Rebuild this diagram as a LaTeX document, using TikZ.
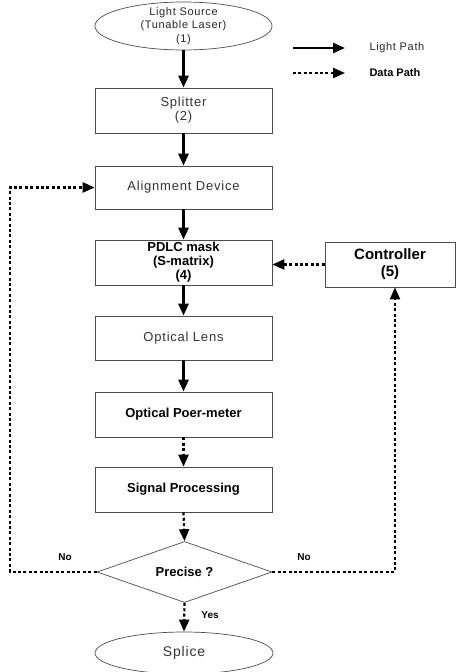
\documentclass[tikz,border=0pt]{standalone}
\usepackage{fontspec}
\setmainfont{Liberation Sans}
\newfontfamily\thinfont[LetterSpace=6]{Liberation Sans}
\usetikzlibrary{shapes.geometric,arrows.meta}

\begin{document}
\begin{tikzpicture}[x=1pt,y=-1pt,
  box/.style={draw=black!70, line width=0.7pt, rectangle, minimum width=177pt,
    inner sep=0pt, align=center, text=black!80, font=\fontsize{13}{14}\thinfont},
  boldbox/.style={box, text=black, font=\fontsize{13}{14}\selectfont\bfseries},
  oval/.style={draw=black!70, line width=0.7pt, ellipse, inner sep=0pt},
  light/.style={line width=2.6pt, -{Triangle[length=12pt,width=10pt]}},
  data/.style={line width=2.2pt, dash pattern=on 3pt off 2.4pt,
    -{Triangle[length=12pt,width=10pt]}},
  small/.style={font=\fontsize{11}{13.5}\thinfont, align=center, text=black!85},
  tag/.style={font=\fontsize{10}{12}\selectfont\bfseries}
]
\useasboundingbox (0,0) rectangle (462,672);

% light source
\node[oval, minimum width=177pt, minimum height=48pt] (src) at (183.5,26) {};
\node[small] (srct) at (src) {Light Source\\(Tunable Laser)\\(1)};

% main chain of stages
\node[box, minimum height=45pt] (split) at (183.5,110.5) {Splitter\\(2)};
\node[box, minimum height=43pt] (align) at (183.5,187.5) {Alignment Device};
\node[boldbox, minimum height=45pt] (pdlc) at (183.5,262.5) {PDLC mask\\(S-matrix)\\(4)};
\node[box, minimum height=44pt] (lens) at (183.5,338) {Optical Lens};
\node[boldbox, minimum height=45pt] (meter) at (183.5,414.5) {Optical Poer-meter};
\node[boldbox, minimum height=45pt] (sig) at (183.5,489.5) {Signal Processing};
\node[draw=black!70, line width=0.7pt, diamond, aspect=2.9, inner sep=0pt,
  minimum width=175pt, minimum height=61pt,
  font=\fontsize{13}{14}\selectfont\bfseries] (dia) at (184.5,572) {Precise ?};
\node[oval, minimum width=178pt, minimum height=42pt, text=black!80,
  font=\fontsize{14}{15}\thinfont] (splice) at (184,653) {Splice};

% controller
\node[boldbox, minimum width=130pt, minimum height=45pt,
  font=\fontsize{15}{17}\selectfont\bfseries] (ctrl) at (390,264.5) {Controller\\(5)};

% legend
\coordinate (la) at (293,48);
\coordinate (lb) at (345,48);
\coordinate (da) at (293,73);
\coordinate (db) at (345,73);
\draw[light] (la) -- (lb);
\draw[data] (da) -- (db);
\node[small, anchor=west] (lt) at (366,48) {Light Path};
\node[small, anchor=west, text=black, font=\fontsize{11}{13}\selectfont\bfseries] (dt) at (366,73) {Data Path};

% light path
\draw[light] (src.south) -- (split.north);
\draw[light] (split.south) -- (align.north);
\draw[light] (align.south) -- (pdlc.north);
\draw[light] (pdlc.south) -- (lens.north);
\draw[light] (lens.south) -- (meter.north);

% data path
\draw[data] (meter.south) -- (sig.north);
\draw[data] (sig.south) -- (dia.north);
\draw[data] (dia.south) -- (splice.north);
\draw[data] (ctrl.west) -- (ctrl.west -| pdlc.east);
\coordinate (lc) at (10,572);
\coordinate (rc) at (395,572);
\draw[data] (dia.west) -- (lc) |- (align.west);
\draw[data] (dia.east) -- (rc) -- (rc |- ctrl.south);

% decision labels
\node[tag] (nol) at (65,557) {No};
\node[tag] (nor) at (304,557) {No};
\node[tag] (yes) at (210,615) {Yes};
\end{tikzpicture}
\end{document}
